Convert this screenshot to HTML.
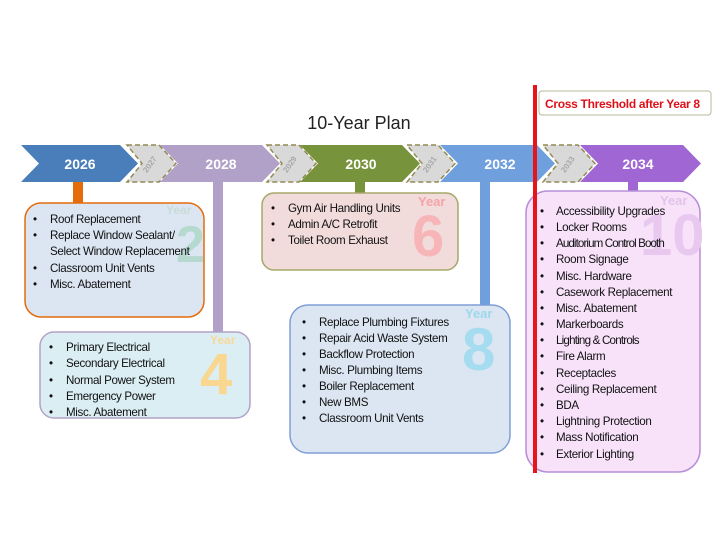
<!DOCTYPE html>
<html><head><meta charset="utf-8"><style>
body{margin:0;background:#fff;}
svg{display:block;font-family:"Liberation Sans",Arial,sans-serif;}
.t{font-size:11.6px;fill:#111;letter-spacing:-0.35px;}
.y{font-weight:bold;font-size:14px;fill:#fff;}
.dy{font-size:8px;fill:#a8a8a8;font-weight:bold;}
</style></head><body>
<svg width="717" height="556" viewBox="0 0 717 556">
<text x="359" y="129" font-size="18" text-anchor="middle" fill="#222">10-Year Plan</text>
<!-- connectors -->
<rect x="73" y="180" width="10" height="25" fill="#e46c0a"/>
<rect x="213" y="180" width="10" height="152" fill="#b1a0c7"/>
<rect x="355" y="180" width="10" height="14" fill="#77933c"/>
<rect x="480" y="180" width="10" height="126" fill="#6f9fdc"/>
<rect x="628" y="180" width="10" height="12" fill="#a066d3"/>
<!-- main chevrons -->
<path d="M21,145 L120,145 L138,163.5 L120,182 L21,182 L39,163.5Z" fill="#4a7ebb"/>
<path d="M160,145 L262,145 L280,163.5 L262,182 L160,182 L178,163.5Z" fill="#b1a0c7"/>
<path d="M300,145 L402,145 L420,163.5 L402,182 L300,182 L318,163.5Z" fill="#77933c"/>
<path d="M440,145 L537,145 L555,163.5 L537,182 L440,182 L458,163.5Z" fill="#6f9fdc"/>
<path d="M580,145 L683,145 L701,163.5 L683,182 L580,182 L598,163.5Z" fill="#a066d3"/>
<!-- dashed small chevrons -->
<g fill="#d9d9d9" stroke="#948a54" stroke-width="1.5" stroke-dasharray="5,3">
<path d="M127,145 L159,145 L176,163.5 L159,182 L127,182 L142,163.5Z"/>
<path d="M267,145 L299,145 L316,163.5 L299,182 L267,182 L282,163.5Z"/>
<path d="M407,145 L438,145 L455,163.5 L438,182 L407,182 L422,163.5Z"/>
<path d="M543,145 L578,145 L595,163.5 L578,182 L543,182 L558,163.5Z"/>
</g>
<g class="dy" text-anchor="middle">
<text transform="translate(152,166) rotate(-55)">2027</text>
<text transform="translate(292,166) rotate(-55)">2029</text>
<text transform="translate(432,166) rotate(-55)">2031</text>
<text transform="translate(570,166) rotate(-55)">2033</text>
</g>
<g class="y" text-anchor="middle">
<text x="80" y="169">2026</text><text x="221" y="169">2028</text><text x="361" y="169">2030</text><text x="500" y="169">2032</text><text x="638" y="169">2034</text>
</g>
<!-- boxes -->
<rect x="25" y="203" width="179" height="114" rx="16" fill="#dce6f2" stroke="#e46c0a" stroke-width="1.5"/>
<rect x="40" y="332" width="210" height="86" rx="14" fill="#dbeef4" stroke="#b3a2c7" stroke-width="1.5"/>
<rect x="262" y="193" width="196" height="77" rx="12" fill="#f2dcdb" stroke="#a6a86a" stroke-width="1.5"/>
<rect x="290" y="305" width="220" height="148" rx="18" fill="#dce6f2" stroke="#7f9fd6" stroke-width="1.5"/>
<rect x="526" y="191" width="174" height="281" rx="22" fill="#f8e2fa" stroke="#b58fd8" stroke-width="1.5"/>
<!-- big year numbers -->
<g font-weight="bold">
<text x="166" y="214" font-size="12" fill="#c8dcd8">Year</text>
<text x="176" y="262" font-size="52" fill="#b5d9cf">2</text>
<text x="210" y="344" font-size="12" fill="#f8d89a">Year</text>
<text x="200" y="394" font-size="58" fill="#fad790">4</text>
<text x="418" y="206" font-size="13" fill="#f4a4a8">Year</text>
<text x="412" y="256" font-size="58" fill="#f7b5b8">6</text>
<text x="465" y="318" font-size="13" fill="#9ed8ec">Year</text>
<text x="462" y="370" font-size="60" fill="#a6dcf0">8</text>
<text x="660" y="205" font-size="13" fill="#e2c4ea">Year</text>
<text x="640" y="255" font-size="58" fill="#e8c8ef">10</text>
</g>
<g class="t">
<text x="33" y="223">•</text><text x="50" y="223">Roof Replacement</text>
<text x="33" y="239">•</text><text x="50" y="239">Replace Window Sealant/</text>
<text x="50" y="255">Select Window Replacement</text>
<text x="33" y="272">•</text><text x="50" y="272">Classroom Unit Vents</text>
<text x="33" y="288">•</text><text x="50" y="288">Misc. Abatement</text>

<text x="49" y="351">•</text><text x="66" y="351">Primary Electrical</text>
<text x="49" y="367">•</text><text x="66" y="367">Secondary Electrical</text>
<text x="49" y="384">•</text><text x="66" y="384">Normal Power System</text>
<text x="49" y="400">•</text><text x="66" y="400">Emergency Power</text>
<text x="49" y="416">•</text><text x="66" y="416">Misc. Abatement</text>

<text x="271" y="212">•</text><text x="288" y="212">Gym Air Handling Units</text>
<text x="271" y="228">•</text><text x="288" y="228">Admin A/C Retrofit</text>
<text x="271" y="244">•</text><text x="288" y="244">Toilet Room Exhaust</text>

<text x="302" y="326">•</text><text x="319" y="326">Replace Plumbing Fixtures</text>
<text x="302" y="342">•</text><text x="319" y="342">Repair Acid Waste System</text>
<text x="302" y="358">•</text><text x="319" y="358">Backflow Protection</text>
<text x="302" y="374">•</text><text x="319" y="374">Misc. Plumbing Items</text>
<text x="302" y="390">•</text><text x="319" y="390">Boiler Replacement</text>
<text x="302" y="406">•</text><text x="319" y="406">New BMS</text>
<text x="302" y="422">•</text><text x="319" y="422">Classroom Unit Vents</text>

<text x="540" y="215">•</text><text x="556" y="215">Accessibility Upgrades</text>
<text x="540" y="231">•</text><text x="556" y="231">Locker Rooms</text>
<text x="540" y="247">•</text><text x="556" y="247" letter-spacing="-0.9">Auditorium Control Booth</text>
<text x="540" y="263">•</text><text x="556" y="263">Room Signage</text>
<text x="540" y="280">•</text><text x="556" y="280">Misc. Hardware</text>
<text x="540" y="296">•</text><text x="556" y="296">Casework Replacement</text>
<text x="540" y="312">•</text><text x="556" y="312">Misc. Abatement</text>
<text x="540" y="328">•</text><text x="556" y="328">Markerboards</text>
<text x="540" y="344">•</text><text x="556" y="344" letter-spacing="-0.8">Lighting &amp; Controls</text>
<text x="540" y="360">•</text><text x="556" y="360">Fire Alarm</text>
<text x="540" y="377">•</text><text x="556" y="377">Receptacles</text>
<text x="540" y="393">•</text><text x="556" y="393">Ceiling Replacement</text>
<text x="540" y="409">•</text><text x="556" y="409">BDA</text>
<text x="540" y="425">•</text><text x="556" y="425">Lightning Protection</text>
<text x="540" y="441">•</text><text x="556" y="441">Mass Notification</text>
<text x="540" y="458">•</text><text x="556" y="458">Exterior Lighting</text>
</g>
<!-- threshold -->
<rect x="539" y="91" width="172" height="24" rx="3" fill="#fff" stroke="#b5b89a" stroke-width="1"/>
<text x="545" y="108" font-size="12" font-weight="bold" fill="#e0101a" letter-spacing="-0.3">Cross Threshold after Year 8</text>
<rect x="533" y="85" width="4" height="388" fill="#e8141c"/>
</svg>
</body></html>
